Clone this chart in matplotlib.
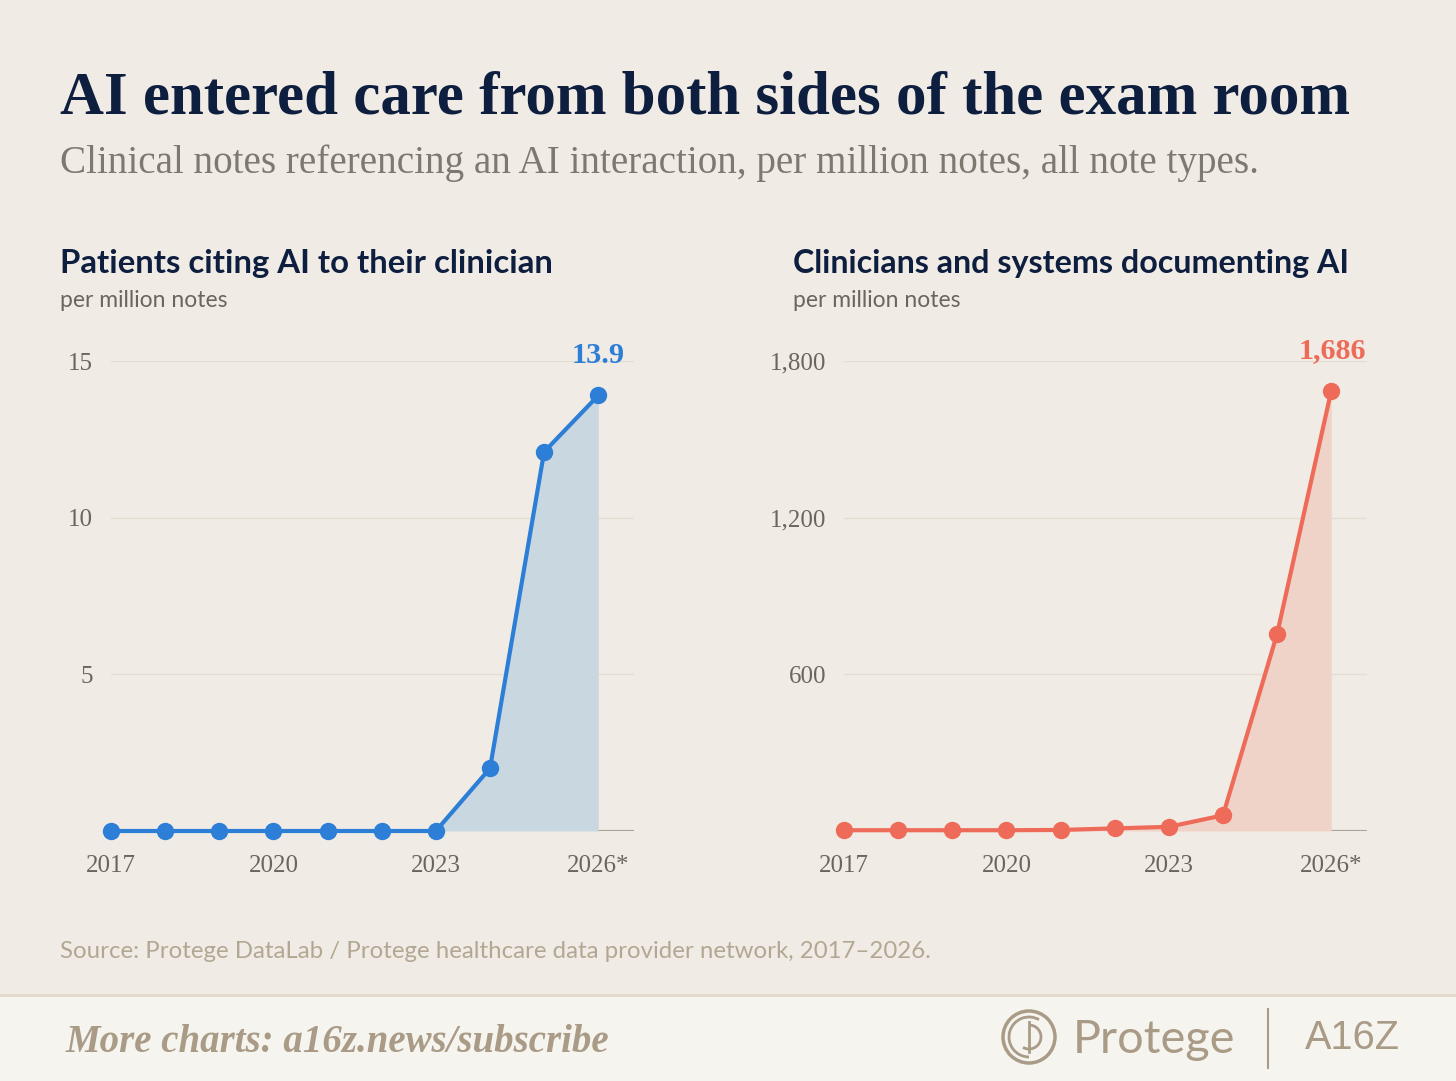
import matplotlib
matplotlib.use("Agg")
import matplotlib.pyplot as plt
from matplotlib.patches import Rectangle, Circle, Arc
import numpy as np

# data
years = [2017, 2018, 2019, 2020, 2021, 2022, 2023, 2024, 2025, 2026]
patients = [0, 0, 0, 0, 0, 0, 0, 2.0, 12.1, 13.9]
clinicians = [3, 3, 3, 3, 4, 10, 16, 60, 755, 1686]
xtick_years = [2017, 2020, 2023, 2026]
xtick_labels = ["2017", "2020", "2023", "2026*"]
left_yticks = [5, 10, 15]
left_ylabels = ["5", "10", "15"]
right_yticks = [600, 1200, 1800]
right_ylabels = ["600", "1,200", "1,800"]

BG = "#F0ECE5"
NAVY = "#0E1E3F"
GREY = "#6B655E"
BLUE = "#2D7ED6"
BLUE_FILL = "#C9D7E1"
RED = "#EE6B59"
RED_FILL = "#F0D3C8"
GRID = "#E4DED2"
BASE = "#A9A298"
TAN = "#A99B86"

W, H = 1456, 1081
fig = plt.figure(figsize=(W / 100, H / 100), dpi=100, facecolor=BG)
renderer = fig.canvas.get_renderer()


def fx(px):
    return px / W


def fy(py):
    return 1 - py / H


def fit(t, width_px):
    bb = t.get_window_extent(renderer)
    t.set_fontsize(t.get_fontsize() * width_px / bb.width)


# header
t = fig.text(fx(60), fy(113), "AI entered care from both sides of the exam room",
             fontsize=46, fontweight="bold", color=NAVY, family="Liberation Serif",
             va="baseline", ha="left")
fit(t, 1288)
t = fig.text(fx(60), fy(173), "Clinical notes referencing an AI interaction, per million notes, all note types.",
             fontsize=28, color="#7E786F", family="Liberation Serif", va="baseline", ha="left")
fit(t, 1198)


def panel(left_px, title, title_w, y, yticks, ylabels, ymax, color, fill, label, label_w, dx):
    t = fig.text(fx(left_px), fy(273), title, fontsize=20, fontweight="bold",
                 color=NAVY, family="Lato", va="baseline", ha="left")
    fit(t, title_w)
    t = fig.text(fx(left_px), fy(307), "per million notes", fontsize=14, color=GREY,
                 family="Lato", va="baseline", ha="left")
    fit(t, 168)

    ax_left = left_px + 51
    ax = fig.add_axes([fx(ax_left), fy(831), fx(634 - 111), (831 - 361) / H])
    ax.set_facecolor("none")
    ax.set_xlim(2017, 2026.66)
    ax.set_ylim(0, ymax)
    for s in ax.spines.values():
        s.set_visible(False)
    for v in yticks:
        ax.axhline(v, color=GRID, lw=1, zorder=0)
    ax.axhline(0, color=BASE, lw=1.5, zorder=1)
    ax.fill_between(years, 0, y, color=fill, lw=0, zorder=1)
    ax.plot(years, y, color=color, lw=3, marker="o", markersize=11.5,
            zorder=3, clip_on=False)
    ax.set_yticks(yticks)
    ax.set_yticklabels(ylabels)
    ax.set_xticks(xtick_years)
    ax.set_xticklabels(xtick_labels)
    ax.tick_params(length=0, labelsize=18, labelcolor=GREY, pad=13)
    ax.tick_params(axis="x", pad=17)
    for lab in ax.get_xticklabels() + ax.get_yticklabels():
        lab.set_family("Liberation Serif")
    a = ax.annotate(label, (years[-1], y[-1]), xytext=(dx, 40), textcoords="offset pixels",
                    ha="right", va="center", fontsize=18, fontweight="bold",
                    color=color, family="Liberation Serif", annotation_clip=False)
    fit(a, label_w)
    return ax


panel(60, "Patients citing AI to their clinician", 493, patients,
      left_yticks, left_ylabels, 15, BLUE, BLUE_FILL, "13.9", 53, 26)
panel(793, "Clinicians and systems documenting AI", 556, clinicians,
      right_yticks, right_ylabels, 1800, RED, RED_FILL, "1,686", 68, 35)

# source
t = fig.text(fx(60), fy(958), "Source: Protege DataLab / Protege healthcare data provider network, 2017\u20132026.",
             fontsize=15, color="#B3A793", family="Lato", va="baseline", ha="left")
fit(t, 872)

# footer band
fig.patches.append(Rectangle((0, 0), 1, fy(995), transform=fig.transFigure,
                             facecolor="#F6F4EF", edgecolor="none", zorder=-2))
fig.patches.append(Rectangle((0, fy(997)), 1, 3 / H, transform=fig.transFigure,
                             facecolor="#E2DACB", edgecolor="none", zorder=-1))
t = fig.text(fx(66), fy(1052), "More charts: a16z.news/subscribe", fontsize=24,
             fontstyle="italic", fontweight="bold", color=TAN, family="Liberation Serif",
             va="baseline", ha="left")
fit(t, 546)

# logos
lx = fig.add_axes([fx(995), 0, fx(460), 1 - fy(995) if False else 86 / H])
lx.set_xlim(995, 1455)
lx.set_ylim(1081, 995)
lx.axis("off")
lx.add_patch(Circle((1029, 1037), 26, fill=False, ec=TAN, lw=2.5))
lx.add_patch(Arc((1029, 1037), 40, 40, theta1=90, theta2=300, ec=TAN, lw=2))
lx.add_patch(Arc((1029, 1037), 24, 24, theta1=270, theta2=120, ec=TAN, lw=2))
lx.plot([1029, 1029], [1022, 1052], color=TAN, lw=2)
t = lx.text(1073, 1040, "Protege", fontsize=30, color=TAN, family="Lato", va="center", ha="left")
fit(t, 162)
lx.plot([1268, 1268], [1009, 1068], color=TAN, lw=1.5)
t = lx.text(1352, 1038, "A16Z", fontsize=32, color=TAN, family="Liberation Sans", va="center",
            ha="center")
fit(t, 95)

fig.savefig("out.png", dpi=100, facecolor=BG)
